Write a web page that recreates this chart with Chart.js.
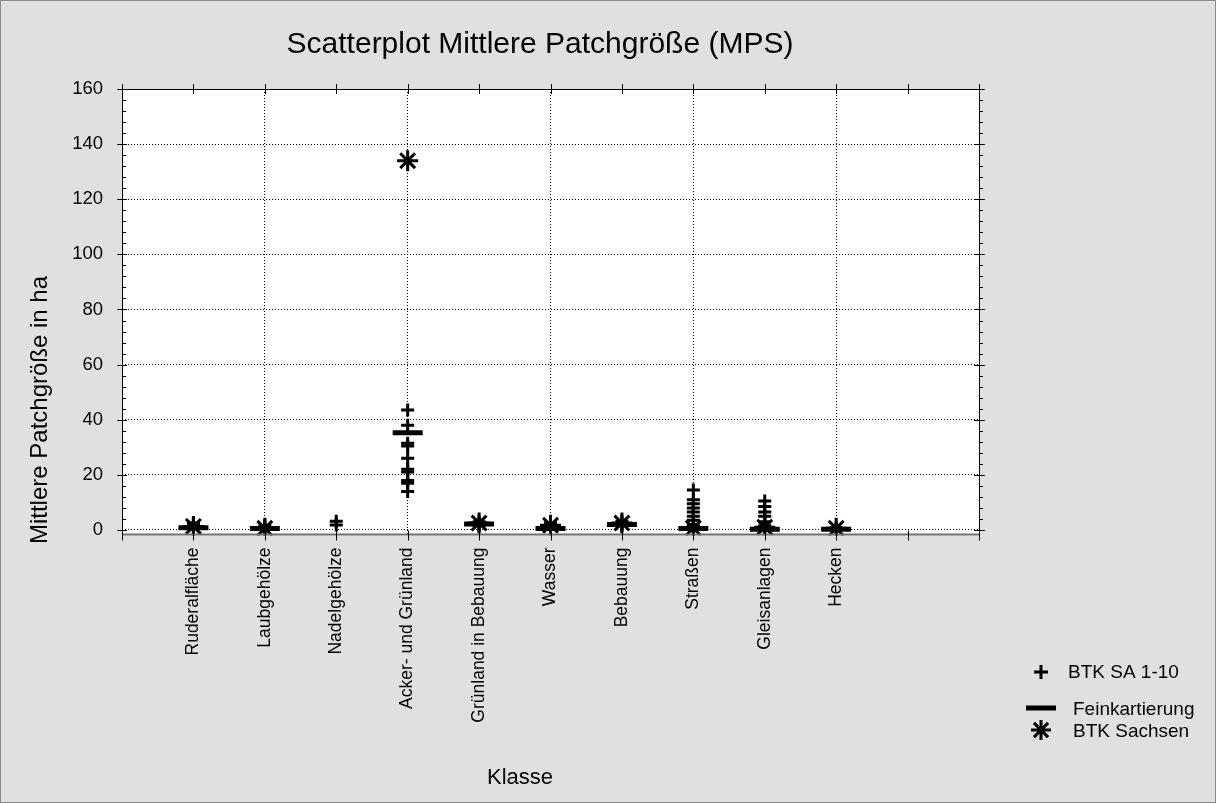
<!DOCTYPE html>
<html>
<head>
<meta charset="utf-8">
<script src="https://cdn.jsdelivr.net/npm/chart.js@4/dist/chart.umd.min.js"></script>
<style>
  html, body { margin: 0; padding: 0; background: #e0e0e0; }
  #wrap { width: 1216px; height: 803px; }
</style>
</head>
<body>
<div id="wrap"><canvas id="c" width="1216" height="803"></canvas></div>
<script>
// Klassen (x-Achse, Positionen 1..10)
const categories = ['Ruderalfläche', 'Laubgehölze', 'Nadelgehölze', 'Acker- und Grünland',
  'Grünland in Bebauung', 'Wasser', 'Bebauung', 'Straßen', 'Gleisanlagen', 'Hecken'];

// Mittlere Patchgröße (ha) je Klasse – BTK SA 1-10 (mehrere Werte je Klasse)
const btkSA_Ruderal = [2.5, 1.8, 1.2, 0.9];
const btkSA_Laub = [1.5, 0.8, 0.4];
const btkSA_Nadel = [3.2, 1.8];
const btkSA_Acker = [43.5, 38, 31.5, 30.5, 26, 22, 21, 18, 17, 14];
const btkSA_GruenBeb = [3, 2.2, 1.5];
const btkSA_Wasser = [2.5, 1.5, 0.6];
const btkSA_Bebauung = [3.2, 2.5, 1.5];
const btkSA_Strassen = [14.5, 11, 9.5, 8, 6.5, 5, 3.5, 2, 1];
const btkSA_Gleis = [10.5, 8.5, 6.5, 5, 3, 1.5, 0.5];
const btkSA_Hecken = [0.8, 0.4];

// Feinkartierung und BTK Sachsen: ein Wert je Klasse (null = kein Wert)
const feinkartierung = [0.8, 0.5, null, 35.3, 2.2, 0.5, 2.0, 0.5, 0.3, 0.3];
const btkSachsen = [1.3, 0.6, null, 134, 2.5, 1.7, 2.5, 0.7, 1.0, 0.6];

// y-Achse
const yTickValues = [0, 20, 40, 60, 80, 100, 120, 140, 160];

const btkSA = [btkSA_Ruderal, btkSA_Laub, btkSA_Nadel, btkSA_Acker, btkSA_GruenBeb,
  btkSA_Wasser, btkSA_Bebauung, btkSA_Strassen, btkSA_Gleis, btkSA_Hecken];

const ptsSA = [];
btkSA.forEach((vals, i) => vals.forEach(v => ptsSA.push({ x: i + 1, y: v })));
const single = arr => arr.map((v, i) => v === null ? null : { x: i + 1, y: v }).filter(p => p);

const FONT = '"Liberation Sans", Arial, sans-serif';
const PLOT_LEFT = 122, PLOT_RIGHT = 979, PLOT_TOP = 89, PLOT_BOTTOM = 535.5;

// Rahmen, Teilstriche, Titel, Achsentitel und Legende
const decor = {
  id: 'decor',
  beforeDraw(chart) {
    const { ctx, chartArea: a } = chart;
    ctx.save();
    ctx.fillStyle = '#e0e0e0';
    ctx.fillRect(0, 0, chart.width, chart.height);
    ctx.fillStyle = '#ffffff';
    ctx.fillRect(a.left, a.top, a.right - a.left, a.bottom - a.top);
    ctx.restore();
  },
  afterDatasetsDraw(chart) {
    const { ctx, chartArea: a, scales } = chart;
    const xs = scales.x, ys = scales.y;
    ctx.save();
    ctx.strokeStyle = '#000';
    ctx.lineWidth = 1;
    // Rahmen
    ctx.beginPath();
    ctx.moveTo(a.left + 0.5, a.bottom); ctx.lineTo(a.left + 0.5, a.top + 0.5);
    ctx.lineTo(a.right + 0.5, a.top + 0.5); ctx.lineTo(a.right + 0.5, a.bottom);
    ctx.stroke();
    ctx.strokeStyle = '#707070';
    ctx.lineWidth = 2;
    ctx.beginPath();
    ctx.moveTo(a.left, a.bottom - 1); ctx.lineTo(a.right + 1, a.bottom - 1);
    ctx.stroke();
    ctx.strokeStyle = '#000';
    ctx.lineWidth = 1;
    // y-Teilstriche (Haupt alle 20, Neben alle 4)
    ctx.beginPath();
    for (let v = 0; v <= 160; v += 4) {
      const y = Math.round(ys.getPixelForValue(v)) + 0.5;
      const major = v % 20 === 0;
      ctx.moveTo(a.left - (major ? 5 : 0), y); ctx.lineTo(a.left + (major ? 5 : 4), y);
      ctx.moveTo(a.right - (major ? 5 : 0), y); ctx.lineTo(a.right + (major ? 6 : 4), y);
    }
    // x-Teilstriche
    for (let v = 0; v <= 12; v++) {
      const x = Math.round(xs.getPixelForValue(v)) + 0.5;
      ctx.moveTo(x, a.bottom - 5); ctx.lineTo(x, a.bottom + 5);
      ctx.moveTo(x, a.top - 5); ctx.lineTo(x, a.top + 5);
    }
    ctx.stroke();
    ctx.restore();
  },
  afterDraw(chart) {
    const { ctx } = chart;
    ctx.save();
    ctx.fillStyle = '#000';
    ctx.textBaseline = 'alphabetic';
    // Titel
    ctx.textAlign = 'center';
    ctx.font = '30px ' + FONT;
    ctx.fillText('Scatterplot Mittlere Patchgröße (MPS)', 540, 53);
    // x-Achsentitel
    ctx.font = '22px ' + FONT;
    ctx.fillText('Klasse', 520, 784);
    // y-Achsentitel
    ctx.save();
    ctx.translate(47, 410);
    ctx.rotate(-Math.PI / 2);
    ctx.font = '24px ' + FONT;
    ctx.fillText('Mittlere Patchgröße in ha', 0, 0);
    ctx.restore();
    // Legende
    const items = [
      { ds: 0, y: 672, ty: 673, tx: 1068, r: 7 },
      { ds: 1, y: 708, ty: 710, tx: 1073, r: 15 },
      { ds: 2, y: 730, ty: 732, tx: 1073, r: 10 }
    ];
    ctx.font = '19px ' + FONT;
    ctx.textAlign = 'left';
    ctx.textBaseline = 'middle';
    items.forEach(it => {
      const d = chart.data.datasets[it.ds];
      ctx.strokeStyle = '#000';
      ctx.fillStyle = '#000';
      ctx.lineWidth = d.pointBorderWidth;
      Chart.helpers.drawPoint(ctx, {
        pointStyle: d.pointStyle, radius: it.r, borderWidth: d.pointBorderWidth, rotation: 0
      }, 1041, it.y);
      ctx.fillStyle = '#000';
      ctx.fillText(d.label, it.tx, it.ty);
    });
    // äußerer Rahmen
    ctx.strokeStyle = '#8a8a8a';
    ctx.lineWidth = 1;
    ctx.strokeRect(0.5, 0.5, chart.width - 1, chart.height - 1);
    ctx.restore();
  }
};

const baseStyle = { showLine: false, borderColor: '#000', backgroundColor: '#000',
  pointBorderColor: '#000', pointBackgroundColor: '#000', pointHoverRadius: 0 };

new Chart(document.getElementById('c'), {
  type: 'scatter',
  data: {
    datasets: [
      Object.assign({ label: 'BTK SA 1-10', data: ptsSA, pointStyle: 'cross',
        pointRadius: 6.5, pointBorderWidth: 3 }, baseStyle),
      Object.assign({ label: 'Feinkartierung', data: single(feinkartierung), pointStyle: 'line',
        pointRadius: 15, pointBorderWidth: 5 }, baseStyle),
      Object.assign({ label: 'BTK Sachsen', data: single(btkSachsen), pointStyle: 'star',
        pointRadius: 10.5, pointBorderWidth: 3 }, baseStyle)
    ]
  },
  options: {
    responsive: false,
    animation: false,
    events: [],
    layout: { padding: { top: PLOT_TOP, right: 1216 - PLOT_RIGHT, left: 0, bottom: 0 } },
    plugins: { legend: { display: false }, title: { display: false }, tooltip: { enabled: false } },
    scales: {
      x: {
        type: 'linear', position: 'bottom', min: 0, max: 12,
        afterBuildTicks: s => { s.ticks = []; for (let i = 0; i <= 12; i++) s.ticks.push({ value: i }); },
        afterFit: s => { s.height = 803 - PLOT_BOTTOM; },
        ticks: {
          autoSkip: false, maxRotation: 90, minRotation: 90, padding: 12,
          color: '#000', font: { family: FONT, size: 17.5 },
          callback: v => categories[v - 1] || ''
        },
        grid: {
          drawTicks: false,
          color: c => (c.tick && c.tick.value % 2 === 0 && c.tick.value > 0 && c.tick.value < 12) ? '#000' : 'rgba(0,0,0,0)',
          lineWidth: 1
        },
        border: { display: false, dash: [1, 2] }
      },
      y: {
        type: 'linear', min: -2, max: 160,
        afterBuildTicks: s => { s.ticks = yTickValues.map(v => ({ value: v })); },
        afterFit: s => { s.width = PLOT_LEFT; },
        ticks: { padding: 19, color: '#000', font: { family: FONT, size: 18.5 } },
        grid: {
          drawTicks: false,
          color: c => (c.tick && c.tick.value < 160) ? '#000' : 'rgba(0,0,0,0)',
          lineWidth: 1
        },
        border: { display: false, dash: [1, 2] }
      }
    }
  },
  plugins: [decor]
});
</script>
</body>
</html>
